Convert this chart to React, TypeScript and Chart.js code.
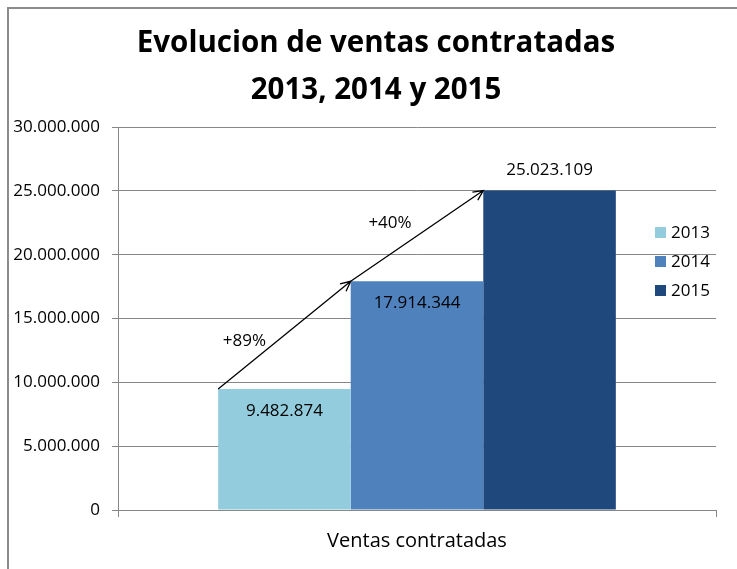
import React, { useEffect, useRef } from "react";
import { Chart, registerables } from "chart.js";

Chart.register(...registerables);

const categories = ["Ventas contratadas"];
const seriesNames = ["2013", "2014", "2015"];
const seriesValues = [9482874, 17914344, 25023109];
const seriesColors = ["#93CDDD", "#4F81BD", "#1F497D"];
const titleLines = ["Evolucion de ventas contratadas", "2013, 2014 y 2015"];
const yMin = 0;
const yMax = 30000000;
const yStep = 5000000;

const FONT = "'Open Sans', 'Liberation Sans', sans-serif";
const GRID = "#878787";

function fmt(v: number): string {
  return String(Math.round(v)).replace(/\B(?=(\d{3})+(?!\d))/g, ".");
}

function drawArrow(ctx: CanvasRenderingContext2D, x1: number, y1: number, x2: number, y2: number) {
  const ang = Math.atan2(y2 - y1, x2 - x1);
  const len = 11;
  const spread = 0.45;
  ctx.beginPath();
  ctx.moveTo(x1, y1);
  ctx.lineTo(x2, y2);
  ctx.moveTo(x2 - len * Math.cos(ang - spread), y2 - len * Math.sin(ang - spread));
  ctx.lineTo(x2, y2);
  ctx.lineTo(x2 - len * Math.cos(ang + spread), y2 - len * Math.sin(ang + spread));
  ctx.stroke();
}

const decorPlugin = {
  id: "decor",
  afterDraw(chart: any) {
    const ctx = chart.ctx as CanvasRenderingContext2D;
    ctx.save();
    // outer border (top + left)
    ctx.strokeStyle = "#8c8c8c";
    ctx.lineWidth = 2;
    ctx.beginPath();
    ctx.moveTo(1, chart.height);
    ctx.lineTo(1, 1);
    ctx.lineTo(chart.width, 1);
    ctx.stroke();

    // title
    ctx.fillStyle = "#000";
    ctx.textAlign = "center";
    ctx.textBaseline = "middle";
    ctx.font = "bold 29.5px " + FONT;
    ctx.fillText(titleLines[0], 369, 37);
    ctx.fillText(titleLines[1], 369, 84);

    // bars info
    const bars = seriesValues.map((_, i) => chart.getDatasetMeta(i).data[0]);

    // data labels
    ctx.font = "17px " + FONT;
    bars.forEach((b: any, i: number) => {
      const inside = i < bars.length - 1;
      const y = inside ? b.y + 22 : b.y - 20;
      ctx.fillText(fmt(seriesValues[i]), b.x, y);
    });

    // arrows
    ctx.strokeStyle = "#000";
    ctx.lineWidth = 1.3;
    const offs = [
      [-40, 6],
      [-27, -13],
    ];
    for (let i = 0; i < bars.length - 1; i++) {
      const a = bars[i];
      const c = bars[i + 1];
      const x1 = a.x - a.width / 2;
      const y1 = a.y;
      const x2 = c.x - c.width / 2;
      const y2 = c.y;
      drawArrow(ctx, x1, y1, x2, y2);
      const pct = Math.round((seriesValues[i + 1] / seriesValues[i] - 1) * 100);
      ctx.fillStyle = "#000";
      ctx.font = "17px " + FONT;
      ctx.fillText("+" + pct + "%", (x1 + x2) / 2 + offs[i][0], (y1 + y2) / 2 + offs[i][1]);
    }

    // legend
    ctx.textAlign = "left";
    ctx.font = "17px " + FONT;
    seriesNames.forEach((n, i) => {
      const cy = 225 + i * 29;
      ctx.fillStyle = seriesColors[i];
      ctx.fillRect(648, cy - 5, 11, 11);
      ctx.fillStyle = "#000";
      ctx.fillText(n, 664, cy + 1);
    });
    ctx.restore();
  },
};

export default function App() {
  const ref = useRef<HTMLCanvasElement>(null);
  useEffect(() => {
    if (!ref.current) return;
    const chart = new Chart(ref.current, {
      type: "bar",
      data: {
        labels: categories,
        datasets: seriesNames.map((n, i) => ({
          label: n,
          data: [seriesValues[i]],
          backgroundColor: seriesColors[i],
          borderWidth: 0,
          categoryPercentage: 0.665,
          barPercentage: 1,
        })),
      },
      options: {
        animation: false,
        responsive: false,
        devicePixelRatio: 1,
        layout: { padding: { top: 120, right: 21, left: 0, bottom: 0 } },
        plugins: {
          legend: { display: false },
          title: { display: false },
          tooltip: { enabled: false },
        },
        scales: {
          x: {
            offset: true,
            grid: {
              display: true,
              offset: true,
              drawOnChartArea: false,
              drawTicks: true,
              tickLength: 7,
              color: GRID,
            },
            border: { display: true, color: GRID },
            ticks: {
              color: "#000",
              padding: 12,
              font: { family: FONT, size: 20 },
            },
            afterFit: (s: any) => {
              s.height = 59;
            },
          },
          y: {
            min: yMin,
            max: yMax,
            ticks: {
              stepSize: yStep,
              color: "#000",
              padding: 12,
              font: { family: FONT, size: 17 },
              callback: (v: any) => fmt(Number(v)),
            },
            grid: { color: GRID, tickLength: 6, lineWidth: 1 },
            border: { display: true, color: GRID },
            afterFit: (s: any) => {
              s.width = 111;
            },
          },
        },
      },
      plugins: [decorPlugin],
    });
    return () => chart.destroy();
  }, []);
  return (
    <div style={{ position: "fixed", left: 7, top: 7, width: 730, height: 562, background: "#fff" }}>
      <canvas ref={ref} width={730} height={562} style={{ display: "block" }} />
    </div>
  );
}
